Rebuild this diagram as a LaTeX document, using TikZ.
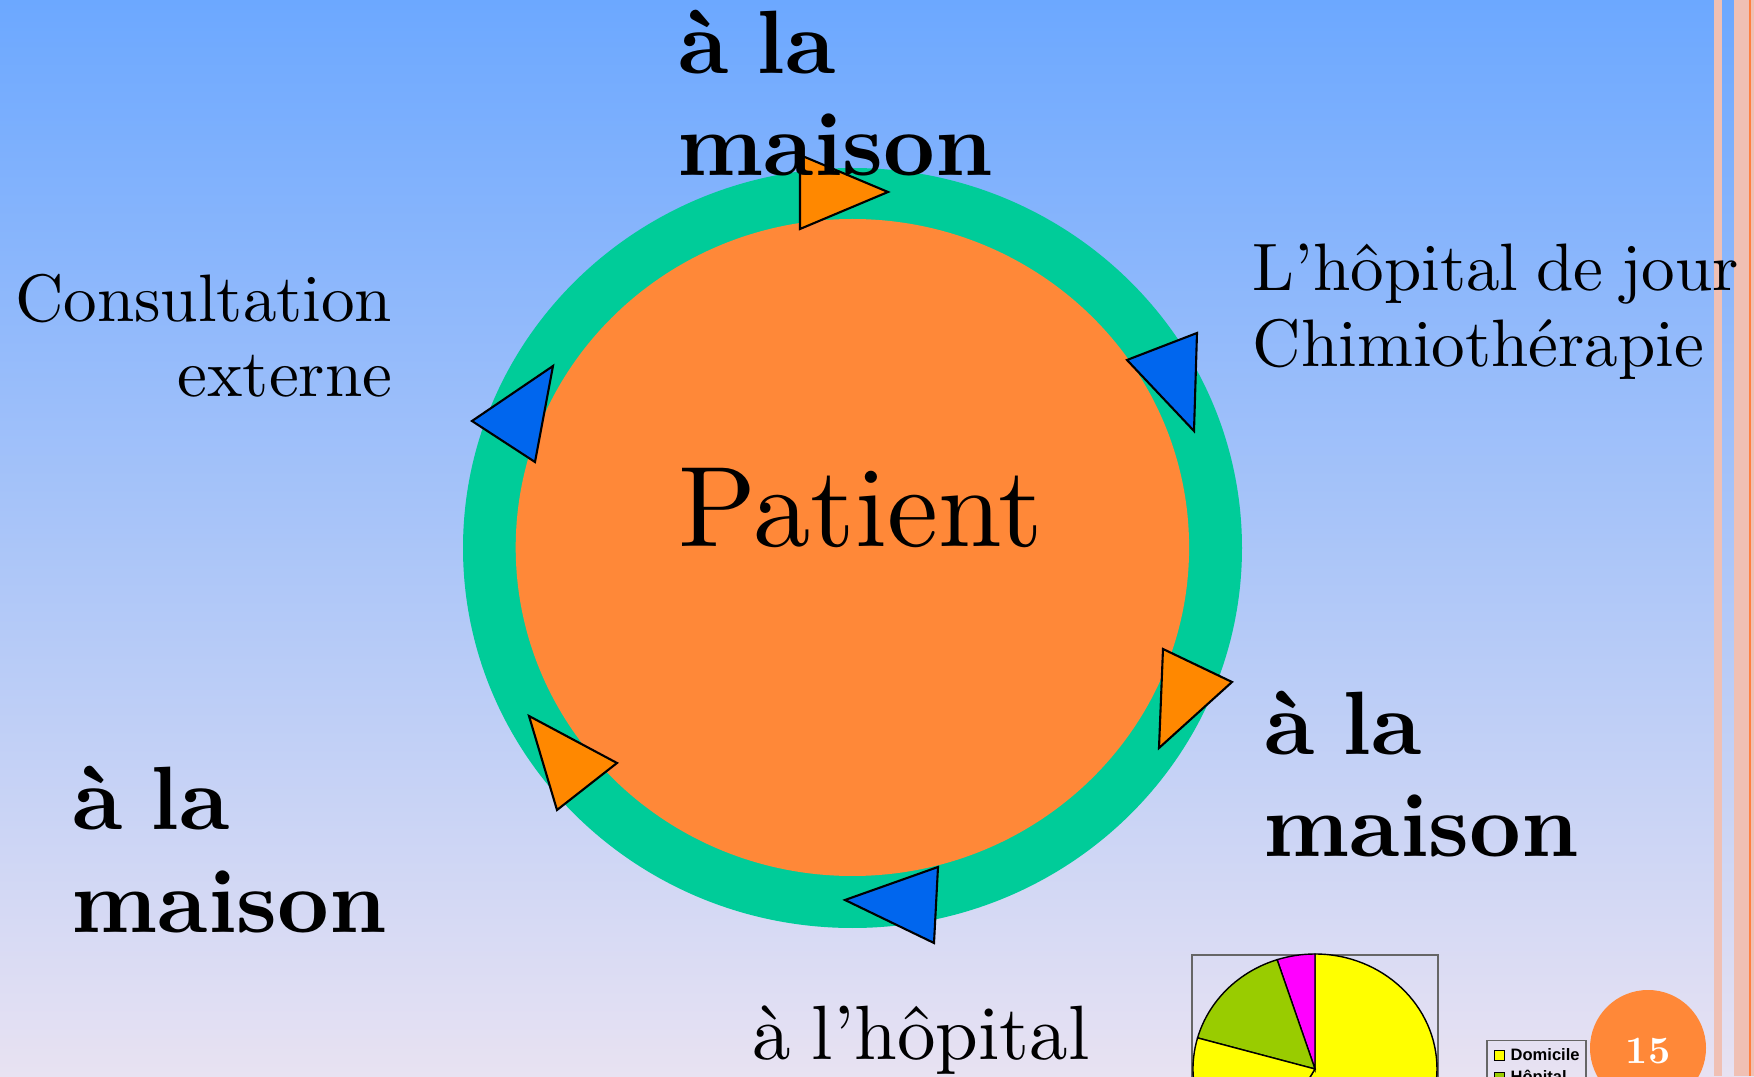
\documentclass[tikz,border=0pt]{standalone}
\usepackage{fontspec}
\setmainfont{lmroman10}[Extension=.otf, UprightFont=*-regular, BoldFont=*-bold,
  ItalicFont=*-italic, BoldItalicFont=*-bolditalic, WordSpace=0.8]
\newfontfamily\legendfont{Liberation Sans}
\usepackage{tikz}
\usetikzlibrary{arrows}
\usetikzlibrary{backgrounds}
\usetikzlibrary{shapes,positioning}

\definecolor{bgtop}{RGB}{108,168,255}
\definecolor{bgmid}{RGB}{168,203,245}
\definecolor{bgbot}{RGB}{232,226,242}
\definecolor{ringgreen}{RGB}{0,204,153}
\definecolor{patorange}{RGB}{255,136,56}
\definecolor{triorange}{RGB}{255,136,0}
\definecolor{triblue}{RGB}{0,102,238}
\definecolor{stripepink}{RGB}{240,192,180}
\definecolor{stripeorange}{RGB}{255,128,64}
\definecolor{pieyellow}{RGB}{255,255,0}
\definecolor{piegreen}{RGB}{153,204,0}
\definecolor{piemagenta}{RGB}{255,0,255}

\tikzset{
  maison/.style={inner sep=0pt, anchor=base west,
    font=\fontsize{25.6}{29}\selectfont\bfseries},
  place/.style={inner sep=0pt, font=\fontsize{19.1}{22}\selectfont},
  arrowtri/.style={draw=black, semithick, line join=miter},
  legendtext/.style={inner sep=0pt, anchor=base west,
    font=\legendfont\fontsize{4.7}{5.5}\selectfont\bfseries},
}

\begin{document}
\begin{tikzpicture}
    \useasboundingbox (0,0) rectangle (17.54,10.76);
    \clip (0,0) rectangle (17.54,10.76);
    \shade [top color=bgtop, middle color=bgmid, bottom color=bgbot] (0,0) rectangle (17.54,10.76);

    % bandes a droite
    \fill [stripepink] (17.14,0) rectangle (17.22,10.76);
    \fill [stripepink] (17.34,0) rectangle (17.54,10.76);
    \fill [stripeorange] (17.49,0) rectangle (17.505,10.76);

    % anneau et patient
    \fill [ringgreen] (8.525,5.28) ellipse (3.895 and 3.80);
    \fill [patorange] (8.524,5.285) ellipse (3.367 and 3.285);

    % fleches
    \filldraw [arrowtri, fill=triorange] (8.00,9.21) -- (8.88,8.84) -- (8.00,8.47) -- cycle;
    \filldraw [arrowtri, fill=triblue] (11.27,7.16) -- (11.97,7.43) -- (11.94,6.45) -- cycle;
    \filldraw [arrowtri, fill=triorange] (11.63,4.27) -- (12.32,3.94) -- (11.59,3.28) -- cycle;
    \filldraw [arrowtri, fill=triblue] (8.45,1.76) -- (9.38,2.09) -- (9.34,1.33) -- cycle;
    \filldraw [arrowtri, fill=triorange] (5.29,3.60) -- (6.17,3.13) -- (5.57,2.66) -- cycle;
    \filldraw [arrowtri, fill=triblue] (4.72,6.55) -- (5.53,7.10) -- (5.35,6.14) -- cycle;

    \node [inner sep=0pt, anchor=base west, font=\fontsize{32.6}{37}\selectfont] (patient) at (6.78,5.29) {Patient};

    \node [maison] (topla) at (6.78,10.02) {à la};
    \node [maison] (topmaison) at (6.77,9.00) {maison};
    \node [maison] (rightla) at (12.64,3.21) {à la};
    \node [maison] (rightmaison) at (12.63,2.19) {maison};
    \node [maison] (leftla) at (0.72,2.46) {à la};
    \node [maison] (leftmaison) at (0.71,1.44) {maison};

    \node [place, anchor=base east] (consult) at (3.93,7.54) {Consultation};
    \node [place, anchor=base east] (externe) at (3.93,6.79) {externe};
    \node [place, anchor=base west] (hdj) at (12.52,7.85) {L’hôpital de jour};
    \node [place, anchor=base west] (chimio) at (12.52,7.09) {Chimiothérapie};
    \node [inner sep=0pt, anchor=base west, font=\fontsize{21.9}{26}\selectfont] (hopital) at (7.52,0.16) {à l’hôpital};

    % camembert
    \draw [thin, black!60] (11.92,-0.5) rectangle (14.38,1.21);
    \filldraw [thin, fill=pieyellow] (13.15,0.07) -- ++(90:1.22 and 1.15) arc [start angle=90, end angle=-120, x radius=1.22, y radius=1.15] -- cycle;
    \filldraw [thin, fill=piemagenta] (13.15,0.07) -- ++(0,1.15) arc [start angle=90, end angle=108.1, x radius=1.22, y radius=1.15] -- cycle;
    \filldraw [thin, fill=piegreen] (13.15,0.07) -- ++(108.1:1.22 and 1.15) arc [start angle=108.1, end angle=164.3, x radius=1.22, y radius=1.15] -- cycle;
    \filldraw [thin, fill=pieyellow] (13.15,0.07) -- ++(164.3:1.22 and 1.15) arc [start angle=164.3, end angle=240, x radius=1.22, y radius=1.15] -- cycle;

    % legende
    \draw [thin, black!60] (14.87,-0.4) rectangle (15.86,0.353);
    \filldraw [very thin, fill=pieyellow] (14.94,0.16) rectangle (15.04,0.26);
    \node [legendtext] (domicile) at (15.10,0.153) {Domicile};
    \filldraw [very thin, fill=piegreen] (14.94,-0.06) rectangle (15.04,0.04);
    \node [legendtext] (hopleg) at (15.10,-0.07) {Hôpital};

    % numero
    \fill [patorange] (16.48,0.28) circle (0.58);
    \node [inner sep=0pt, anchor=base, text=white, font=\fontsize{11}{13}\selectfont\bfseries] (num) at (16.48,0.13) {15};

    \end{tikzpicture}
\end{document}
